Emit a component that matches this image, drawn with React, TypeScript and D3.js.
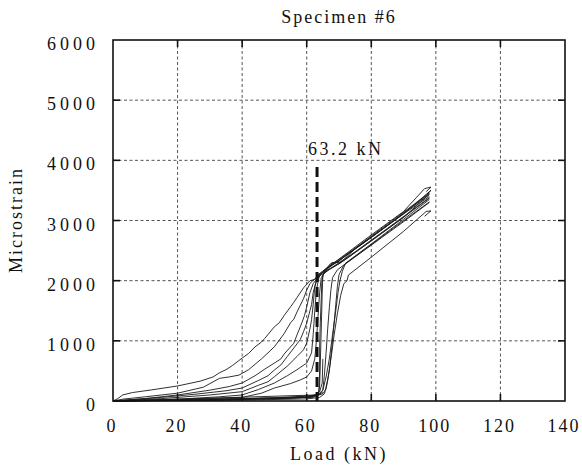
import React from "react";
import * as d3 from "d3";

const W = 582;
const H = 471;
const M = { left: 113, right: 17, top: 40, bottom: 70 };

const xTicks = [0, 20, 40, 60, 80, 100, 120, 140];
const yTicks = [0, 1000, 2000, 3000, 4000, 5000, 6000];
const titleText = "Specimen #6";
const xLabel = "Load (kN)";
const yLabel = "Microstrain";
const markerLoad = 63.2;
const markerTop = 3890;
const markerText = "63.2 kN";

const c1: [number, number][] = [[0,0],[1.5,40],[3,100],[6,140],[12,185],[20,250],[27,330],[31,400],[33,470],[35,520],[37,590],[40,714],[42,790],[44,900],[46,980],[47,1040],[50,1234],[51.5,1300],[53,1420],[55,1566],[56,1640],[57,1720],[59,1880],[61,2000],[62.5,2020],[63.5,2100],[65,2160],[70,2330],[80,2720],[90,3110],[98,3480],[98.5,3500],[97.2,3440]];
const c2: [number, number][] = [[0,0],[3,30],[10,70],[20,130],[28,230],[33,377],[36,400],[39,430],[42,520],[44,610],[46,700],[48,800],[50,902],[53,1120],[55,1300],[56,1360],[57,1480],[59,1700],[60,1844],[61,1950],[62,2010],[64,2080],[66,2200],[67.5,2290],[70,2320],[72,2420],[82,2800],[92,3200],[98,3430]];
const c3: [number, number][] = [[0,0],[10,40],[20,100],[30,180],[36,240],[40,299],[44,420],[47,530],[50,631],[52,700],[53,780],[55,900],[56,960],[57,1100],[58.5,1300],[59.3,1420],[60,1566],[61,1800],[62,1950],[63.5,2060],[66,2150],[72,2350],[84,2820],[98,3370]];
const c4: [number, number][] = [[0,0],[15,60],[25,110],[35,170],[40,216],[45,340],[48,420],[50,515],[52,600],[54,740],[57,950],[58,1020],[59,1150],[60,1295],[61,1500],[61.5,1600],[62,1800],[63,2000],[64.5,2120],[70,2280],[80,2660],[90,3050],[98,3440]];
const c5: [number, number][] = [[0,0],[15,40],[30,100],[40,155],[45,260],[48,320],[50,404],[54,580],[57,740],[59,850],[60,963],[61,1200],[61.5,1350],[62,1600],[62.5,1900],[63.5,2080],[67,2240],[74,2500],[86,2980],[98,3460]];
const c6: [number, number][] = [[0,0],[20,30],[33,70],[40,100],[45,190],[50,299],[54,420],[57,520],[60,631],[61.5,800],[62,1100],[62.5,1500],[63,1850],[64,2100],[68,2260],[78,2640],[90,3110],[98,3400]];
const c7: [number, number][] = [[0,0],[25,30],[40,60],[46,130],[50,216],[55,290],[58,350],[60,400],[61.5,500],[62.5,700],[63,1000],[63.5,1400],[64,1800],[64.5,2050],[66,2170],[68,2300],[70.5,2300],[75,2530],[86,2960],[98,3450]];
const c8: [number, number][] = [[0,0],[20,15],[40,35],[55,60],[62,90],[63.5,110],[64,250],[64.2,600],[64.4,1000],[64.6,1400],[64.8,1800],[65,2100],[67,2190],[75,2480],[85,2870],[98,3380]];
const c9: [number, number][] = [[0,0],[30,25],[50,55],[60,80],[64,110],[65,180],[65.5,450],[66,800],[66.5,1200],[67,1550],[67.5,1850],[68,2050],[69.5,2180],[76,2440],[86,2840],[98,3310]];
const c10: [number, number][] = [[0,0],[30,15],[55,45],[62,70],[65,120],[66,200],[67,500],[67.8,900],[68.5,1300],[69,1600],[69.5,1900],[70,2100],[71.5,2260],[80,2590],[90,2980],[98,3300]];
const c11: [number, number][] = [[0,0],[40,25],[60,60],[64,120],[65,180],[66,400],[67,700],[68,1100],[69,1500],[69.7,1800],[70.3,2000],[71,2150],[72,2290],[80,2610],[90,3020],[98,3350]];
const c12: [number, number][] = [[0,0],[40,15],[60,35],[64,60],[65.5,120],[66.5,350],[67.5,700],[68.5,1100],[69.5,1450],[70.5,1750],[71.5,1950],[72.5,2000],[72.9,2093],[80,2390],[90,2820],[97,3150],[98.5,3160],[96.5,3070]];
const c13: [number, number][] = [[0,0],[30,20],[50,40],[60,60],[63,90],[63.8,150],[64,500],[64,900],[64.2,1300],[64.5,1700],[64.7,2000],[65.5,2180],[70,2360],[80,2760],[90,3150],[96.5,3530],[98.5,3555],[97,3480]];
const c14: [number, number][] = [[0,0],[63,100],[64.5,130],[65,140]];
const c15: [number, number][] = [[0,0],[62,60],[64,150],[64.8,300],[65,700]];

const curves = [c1, c2, c3, c4, c5, c6, c7, c8, c9, c10, c11, c12, c13, c14, c15];

const FONT = "'Liberation Serif', 'Times New Roman', serif";

export default function App() {
  const x = d3.scaleLinear().domain([0, 140]).range([M.left, W - M.right]);
  const y = d3.scaleLinear().domain([0, 6000]).range([H - M.bottom, M.top]);
  const line = d3
    .line<[number, number]>()
    .x((d) => x(d[0]))
    .y((d) => y(d[1]));
  const x0 = x(0), x1 = x(140), y0 = y(0), y1 = y(6000);
  const tickLen = 7;

  return (
    <svg width={W} height={H} style={{ display: "block", position: "absolute", left: 0, top: 0, background: "#fff" }}>
      <rect x={0} y={0} width={W} height={H} fill="#fff" />
      {xTicks.slice(1, -1).map((t) => (
        <line key={"gx" + t} x1={x(t)} x2={x(t)} y1={y1} y2={y0} stroke="#555" strokeWidth={1} strokeDasharray="3,2.5" />
      ))}
      {yTicks.slice(1, -1).map((t) => (
        <line key={"gy" + t} x1={x0} x2={x1} y1={y(t)} y2={y(t)} stroke="#555" strokeWidth={1} strokeDasharray="3,2.5" />
      ))}
      <g fill="none" stroke="#1a1a1a" strokeWidth={0.9} strokeLinejoin="round">
        {curves.map((c, i) => (
          <path key={i} d={line(c) || ""} />
        ))}
      </g>
      <line x1={x(markerLoad)} x2={x(markerLoad)} y1={y(markerTop)} y2={y(0)} stroke="#111" strokeWidth={3} strokeDasharray="10,5" />
      <text x={x(markerLoad) - 9} y={y(markerTop) - 12} fontFamily={FONT} fontSize={18} letterSpacing={2.5} fill="#111">{markerText}</text>
      <rect x={x0} y={y1} width={x1 - x0} height={y0 - y1} fill="none" stroke="#111" strokeWidth={1.6} />
      {xTicks.slice(1, -1).map((t) => (
        <g key={"tx" + t} stroke="#111" strokeWidth={1.6}>
          <line x1={x(t)} x2={x(t)} y1={y0} y2={y0 - tickLen} />
          <line x1={x(t)} x2={x(t)} y1={y1} y2={y1 + tickLen} />
        </g>
      ))}
      {yTicks.slice(1, -1).map((t) => (
        <g key={"ty" + t} stroke="#111" strokeWidth={1.6}>
          <line x1={x0} x2={x0 + tickLen} y1={y(t)} y2={y(t)} />
          <line x1={x1} x2={x1 - tickLen} y1={y(t)} y2={y(t)} />
        </g>
      ))}
      {xTicks.map((t) => (
        <text key={"lx" + t} x={x(t) - 1} y={y0 + 31} textAnchor="middle" fontFamily={FONT} fontSize={18} letterSpacing={2} fill="#111">{t}</text>
      ))}
      {yTicks.map((t) => (
        <text key={"ly" + t} x={x0 - 14} y={y(t) + 10} textAnchor="end" fontFamily={FONT} fontSize={18} letterSpacing={4} fill="#111">{t}</text>
      ))}
      <text x={(x0 + x1) / 2} y={23} textAnchor="middle" fontFamily={FONT} fontSize={18} letterSpacing={2} fill="#111">{titleText}</text>
      <text x={(x0 + x1) / 2} y={460} textAnchor="middle" fontFamily={FONT} fontSize={18} letterSpacing={2.5} fill="#111">{xLabel}</text>
      <text transform={`translate(22, 220) rotate(-90)`} textAnchor="middle" fontFamily={FONT} fontSize={18} letterSpacing={2} fill="#111">{yLabel}</text>
    </svg>
  );
}
